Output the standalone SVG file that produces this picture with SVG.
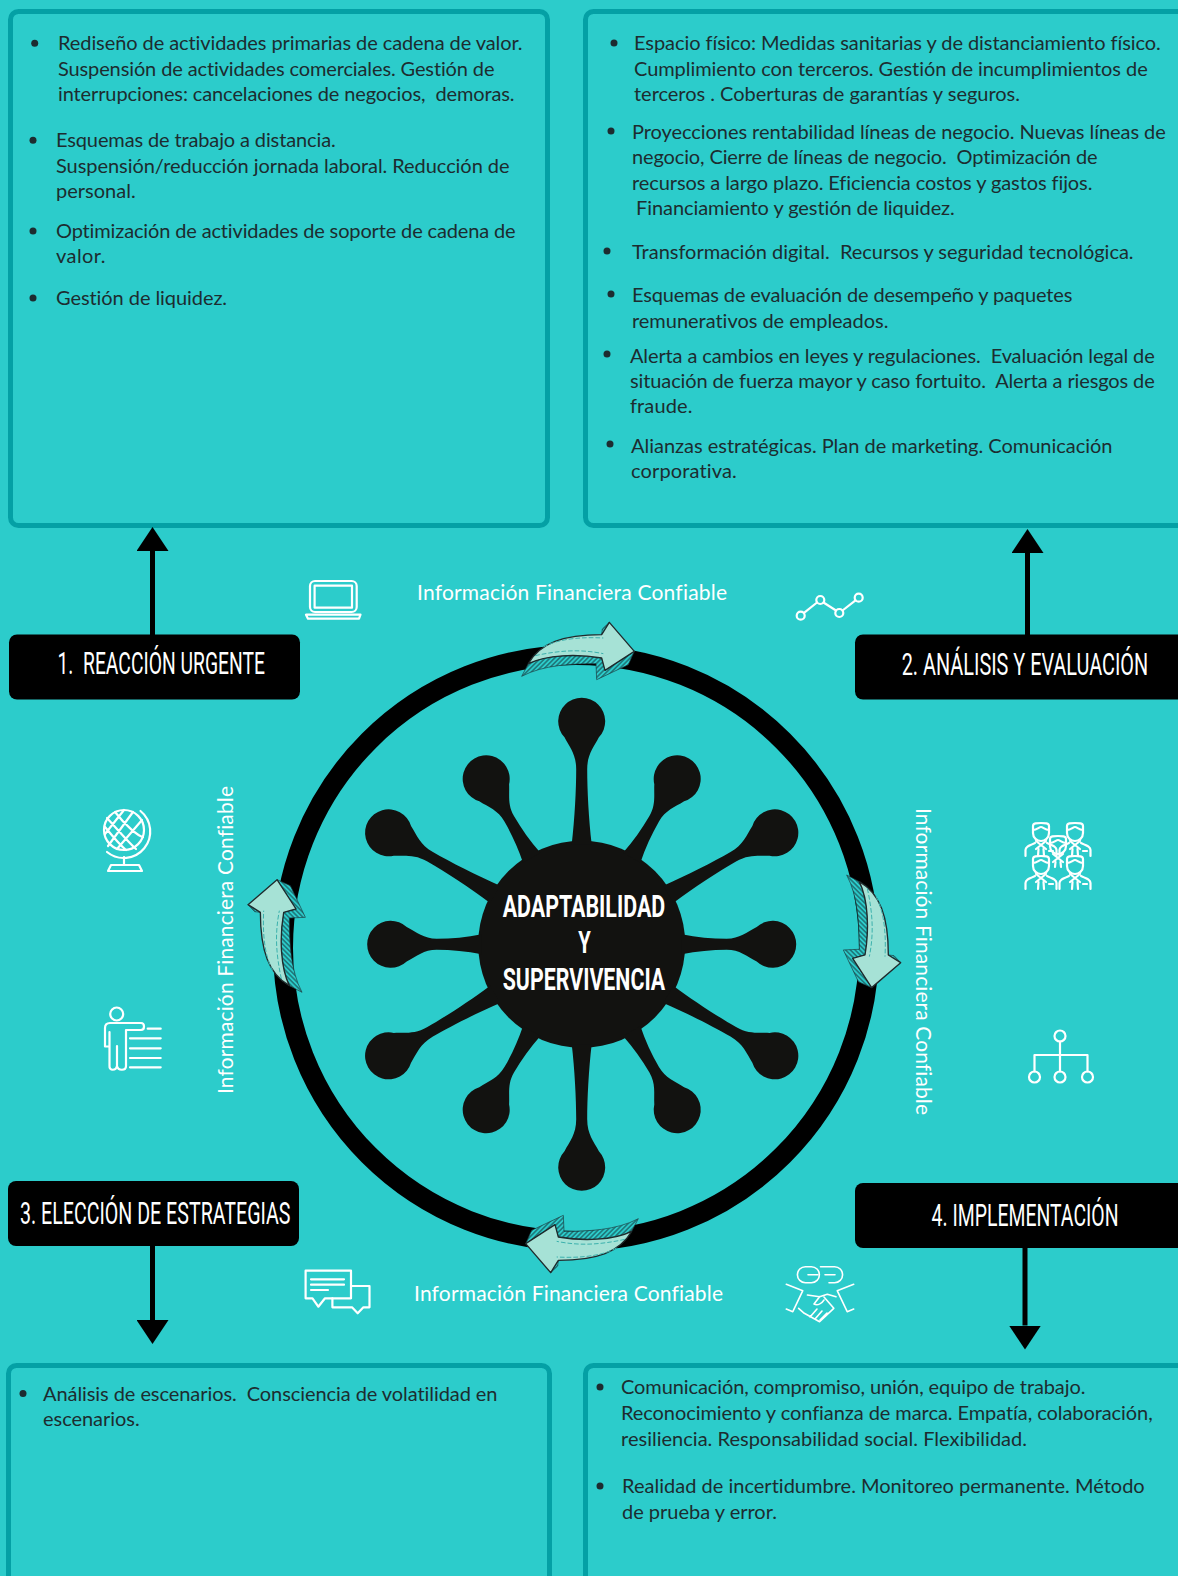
<svg xmlns="http://www.w3.org/2000/svg" width="1178" height="1576" viewBox="0 0 1178 1576">
<style>
.box{fill:#2ccccb;stroke:#04a0a5;stroke-width:5}
.t{font-family:"Lato","Noto Sans",sans-serif;font-size:20px;fill:#1d2c30;white-space:pre;font-variant-ligatures:none}
.b{fill:#1d2c30}
.info{font-family:"Lato","Noto Sans",sans-serif;font-size:21px;fill:#fff;font-variant-ligatures:none}
.head{font-family:"Liberation Sans Narrow","Roboto",sans-serif;font-size:32px;fill:#fff;white-space:pre}
.center{font-family:"Liberation Sans Narrow","Roboto",sans-serif;font-weight:700;font-size:32px;fill:#fff}
.label{fill:#000}
.ic{fill:none;stroke:#fff;stroke-width:2.200;stroke-linecap:round;stroke-linejoin:round}
.conn{stroke:#000;stroke-width:5;fill:none}
</style>
<defs>
<marker id="tri" markerUnits="userSpaceOnUse" markerWidth="24" markerHeight="32" refX="0" refY="16" viewBox="0 0 24 32" orient="auto"><path d="M0 0L24 16L0 32Z" fill="#000"/></marker>
<pattern id="hatch" width="10" height="10" patternUnits="userSpaceOnUse" patternTransform="rotate(-45)"><rect width="10" height="10" fill="#2ccccb"/><line x1="5" y1="0" x2="5" y2="10" stroke="#17454a" stroke-width="3"/></pattern>
<g id="curved" transform="scale(.3333) translate(-126,-394)">
<path d="M50 225C85 290 88 380 88 448L40 450L85 545L125 563L68 475L105 465C118 390 115 300 88 245Z" fill="url(#hatch)" stroke="#1c3a3e" stroke-width="2"/>
<path d="M175 465L192 467L212 488Z" fill="url(#hatch)" stroke="#1c3a3e" stroke-width="2"/>
<path d="M88 245C150 280 175 350 175 465L212 488L125 563L68 475L105 465C118 390 115 300 88 245Z" fill="#a6e2d6" stroke="#1f2a2c" stroke-width="4" stroke-linejoin="round"/>
<path d="M112 265C128 340 132 400 118 470M138 290C165 340 168 410 165 470" fill="none" stroke="#3bb1ad" stroke-width="3" stroke-dasharray="14 6"/>
</g>
<path id="armL" d="M-10-100C-7-125-5.500-155-5.500-175C-5.500-190-12-197-17.200-207A23.500 23.500 0 1 1 17.200-207C12-197 5.500-190 5.500-175C5.500-155 7-125 10-100Z"/>
<path id="armS" d="M-10-100C-7-115-5.500-130-5.500-145C-5.500-158-12-165-17.200-175A23.500 23.500 0 1 1 17.200-175C12-165 5.500-158 5.500-145C5.500-130 7-115 10-100Z"/>
<g id="manHead" class="ic"><path d="M-8 3C-8 0-4 0 0 0S8 0 8 3V10C8 15 4 18 0 18S-8 15-8 10Z"/><path d="M-8 7C-4 7-2 4 0 4S4 7 8 7M-5 18L5 26M5 18L-5 26"/></g>
<g id="man"><use href="#manHead"/><path class="ic" d="M-15.500 33V27C-15.500 24-13 23-6 20M15.500 33V27C15.500 24 13 23 6 20M-2.500 26L-3 33M2.500 26L3 33M8 28H12"/></g>
</defs>
<rect id="background" width="1178" height="1576" fill="#2ccccb"/>

<g id="box-1"><rect class="box" x="10.500" y="11.500" width="537" height="514" rx="8"/>
<circle class="b" cx="34.700" cy="43.300" r="3.500"/><circle class="b" cx="33" cy="140.300" r="3.500"/><circle class="b" cx="33" cy="231" r="3.500"/><circle class="b" cx="33" cy="298" r="3.500"/>
<text class="t" x="58" y="50" textLength="464.600">Rediseño de actividades primarias de cadena de valor.</text>
<text class="t" x="58" y="76" textLength="436.500">Suspensión de actividades comerciales. Gestión de</text>
<text class="t" x="58" y="101" textLength="456.600">interrupciones: cancelaciones de negocios,  demoras.</text>
<text class="t" x="56" y="147" textLength="279.700">Esquemas de trabajo a distancia.</text>
<text class="t" x="56" y="172.700" textLength="453.500">Suspensión/reducción jornada laboral. Reducción de</text>
<text class="t" x="56" y="198" textLength="79.700">personal.</text>
<text class="t" x="56" y="238" textLength="459.600">Optimización de actividades de soporte de cadena de</text>
<text class="t" x="56" y="263" textLength="49.500">valor.</text>
<text class="t" x="56" y="305" textLength="171.100">Gestión de liquidez.</text>
</g>
<g id="box-2"><rect class="box" x="585.500" y="11.500" width="610" height="514" rx="8"/>
<circle class="b" cx="614" cy="43" r="3.500"/><circle class="b" cx="611" cy="131" r="3.500"/><circle class="b" cx="607" cy="251" r="3.500"/><circle class="b" cx="611" cy="294" r="3.500"/><circle class="b" cx="607" cy="354" r="3.500"/><circle class="b" cx="610" cy="444" r="3.500"/>
<text class="t" x="634" y="50" textLength="526.800">Espacio físico: Medidas sanitarias y de distanciamiento físico.</text>
<text class="t" x="634" y="76" textLength="513.700">Cumplimiento con terceros. Gestión de incumplimientos de</text>
<text class="t" x="634" y="101" textLength="386">terceros . Coberturas de garantías y seguros.</text>
<text class="t" x="632" y="138.500" textLength="533.800">Proyecciones rentabilidad líneas de negocio. Nuevas líneas de</text>
<text class="t" x="632" y="164" textLength="465.500">negocio, Cierre de líneas de negocio.  Optimización de</text>
<text class="t" x="632" y="190" textLength="460.400">recursos a largo plazo. Eficiencia costos y gastos fijos.</text>
<text class="t" x="636" y="215" textLength="318.800">Financiamiento y gestión de liquidez.</text>
<text class="t" x="632" y="259" textLength="501.600">Transformación digital.  Recursos y seguridad tecnológica.</text>
<text class="t" x="632" y="302" textLength="440.300">Esquemas de evaluación de desempeño y paquetes</text>
<text class="t" x="632" y="327.500" textLength="256.400">remunerativos de empleados.</text>
<text class="t" x="630" y="362.500" textLength="524.700">Alerta a cambios en leyes y regulaciones.  Evaluación legal de</text>
<text class="t" x="630" y="388" textLength="524.700">situación de fuerza mayor y caso fortuito.  Alerta a riesgos de</text>
<text class="t" x="630" y="413" textLength="62.400">fraude.</text>
<text class="t" x="631" y="453" textLength="481.500">Alianzas estratégicas. Plan de marketing. Comunicación</text>
<text class="t" x="631" y="478" textLength="105.700">corporativa.</text>
</g>
<g id="box-3"><rect class="box" x="8.500" y="1365.500" width="541" height="300" rx="8"/>
<circle class="b" cx="23" cy="1393.500" r="3.500"/>
<text class="t" x="43" y="1400.700" textLength="454.500">Análisis de escenarios.  Consciencia de volatilidad en</text>
<text class="t" x="43" y="1426" textLength="96.700">escenarios.</text>
</g>
<g id="box-4"><rect class="box" x="585.500" y="1365.500" width="610" height="300" rx="8"/>
<circle class="b" cx="600" cy="1387" r="3.500"/><circle class="b" cx="600" cy="1486" r="3.500"/>
<text class="t" x="621" y="1393.700" textLength="464.400">Comunicación, compromiso, unión, equipo de trabajo.</text>
<text class="t" x="621" y="1419.800" textLength="531.700">Reconocimiento y confianza de marca. Empatía, colaboración,</text>
<text class="t" x="621" y="1446" textLength="406">resiliencia. Responsabilidad social. Flexibilidad.</text>
<text class="t" x="622" y="1493" textLength="522.700">Realidad de incertidumbre. Monitoreo permanente. Método</text>
<text class="t" x="622" y="1519" textLength="154.900">de prueba y error.</text>
</g>

<g id="connectors">
<path class="conn" d="M152.500 636V551" marker-end="url(#tri)"/>
<path class="conn" d="M1027.500 636V553" marker-end="url(#tri)"/>
<path class="conn" d="M152.500 1244V1320" marker-end="url(#tri)"/>
<path class="conn" d="M1025 1246V1325.500" marker-end="url(#tri)"/>
</g>

<g id="label-1"><rect class="label" x="9" y="634.500" width="291" height="65" rx="8"/><text class="head" x="57.500" y="674" textLength="207.500" lengthAdjust="spacingAndGlyphs">1.  REACCIÓN URGENTE</text></g>
<g id="label-2"><path class="label" d="M863 634.500H1178V699.500H863A8 8 0 0 1 855 691.500V642.500A8 8 0 0 1 863 634.500Z"/><text class="head" transform="translate(901.700 675) scale(.7 1)" textLength="352.100" lengthAdjust="spacingAndGlyphs">2. ANÁLISIS Y EVALUACIÓN</text></g>
<g id="label-3"><rect class="label" x="8" y="1181" width="291" height="65" rx="8"/><text class="head" x="20" y="1224" textLength="270.500" lengthAdjust="spacingAndGlyphs">3. ELECCIÓN DE ESTRATEGIAS</text></g>
<g id="label-4"><path class="label" d="M863 1183H1178V1248H863A8 8 0 0 1 855 1240V1191A8 8 0 0 1 863 1183Z"/><text class="head" transform="translate(931.600 1226) scale(.7 1)" textLength="267.100" lengthAdjust="spacingAndGlyphs">4. IMPLEMENTACIÓN</text></g>

<g id="ring"><circle cx="576" cy="948" r="293" fill="none" stroke="#000" stroke-width="20"/></g>
<g id="virus" fill="#121210" transform="translate(581.700 944.300)">
<circle r="103.500"/>
<use href="#armL"/><use href="#armS" transform="rotate(30)"/><use href="#armL" transform="rotate(60)"/><use href="#armS" transform="rotate(90)"/><use href="#armL" transform="rotate(120)"/><use href="#armS" transform="rotate(150)"/><use href="#armL" transform="rotate(180)"/><use href="#armS" transform="rotate(210)"/><use href="#armL" transform="rotate(240)"/><use href="#armS" transform="rotate(270)"/><use href="#armL" transform="rotate(300)"/><use href="#armS" transform="rotate(330)"/>
</g>
<g id="center-label">
<text class="center" x="502.700" y="916.700" textLength="162.500" lengthAdjust="spacingAndGlyphs">ADAPTABILIDAD</text>
<text class="center" x="578.300" y="953.300" textLength="12.500" lengthAdjust="spacingAndGlyphs">Y</text>
<text class="center" x="502.700" y="990" textLength="162.500" lengthAdjust="spacingAndGlyphs">SUPERVIVENCIA</text>
</g>

<g id="cycle-arrows">
<use href="#curved" transform="translate(578 651) rotate(-90)"/>
<use href="#curved" transform="translate(872 931.300)"/>
<use href="#curved" transform="translate(582 1244) rotate(90)"/>
<use href="#curved" transform="translate(276.700 936) rotate(180)"/>
</g>

<g id="info-labels">
<text class="info" x="417" y="600" textLength="310">Información Financiera Confiable</text>
<text class="info" x="414" y="1301" textLength="309">Información Financiera Confiable</text>
<text class="info" transform="translate(233 1094) rotate(-90)" textLength="308">Información Financiera Confiable</text>
<text class="info" transform="translate(915.700 808) rotate(90)" textLength="307">Información Financiera Confiable</text>
</g>

<g id="icon-laptop" class="ic"><rect x="310" y="581" width="46.700" height="31" rx="5"/><rect x="314.600" y="585.700" width="37.400" height="22"/><path d="M306 614.700H360.500L359 618.700H308Z"/></g>
<g id="icon-chart" class="ic"><path d="M804 612.800L817 602.500M823.500 602.500L836 610.500M842.500 610.500L855.500 600.300"/><circle cx="800.700" cy="615.700" r="4"/><circle cx="820.300" cy="600" r="4"/><circle cx="839.300" cy="613" r="4"/><circle cx="858.700" cy="597.700" r="4"/></g>
<g id="icon-people"><use href="#man" x="1041" y="823"/><use href="#man" x="1075" y="823"/><use href="#manHead" x="1058" y="836"/><path class="ic" d="M1055.500 862L1055 867M1060.500 862L1061 867"/><use href="#man" x="1041" y="856"/><use href="#man" x="1075" y="856"/></g>
<g id="icon-org" class="ic"><circle cx="1060" cy="1036" r="5.500"/><path d="M1060 1041.500V1071.500M1034.500 1071.500V1055H1087.500V1071.500"/><circle cx="1034.500" cy="1077" r="5.500"/><circle cx="1060" cy="1077" r="5.500"/><circle cx="1087.500" cy="1077" r="5.500"/></g>
<g id="icon-globe" class="ic"><circle cx="124" cy="830" r="20"/><path d="M140.500 811A25 25 0 0 1 107 852M124 857V865M108 871L111 865H139L142 871ZM107 818C118 830 128 842 136 849M115 812C126 826 138 836 143 837M105 827C114 838 120 845 126 850M133 812L108 846M142 820L117 849M124 810L105 834"/></g>
<g id="icon-presenter" class="ic"><circle cx="116.700" cy="1014" r="6.500"/><path d="M109.500 1046.500H105V1028C105 1024.500 107 1023 110 1023H141C145 1023 145 1030 141 1030H126V1066C126 1071 118 1071 117 1066V1046M117 1066C116 1071 109 1071 109.500 1066V1032"/><path d="M147.700 1028.700H160.700M130 1038.300H160.700M130 1048.300H160.700M130 1058H160.700M130 1067.300H160.700"/></g>
<g id="icon-chat" class="ic"><path d="M305.600 1270.700H351V1298.300H325L318.300 1306.700L312.500 1298.300H305.600ZM311 1279.300H344M311 1284.700H344M311 1290H328"/><path d="M351 1286H369.500V1307.300H363.400L357.700 1313.300L352 1307.300H332.400V1298.300"/></g>
<g id="icon-handshake" class="ic" style="stroke-width:1.600"><rect x="797.400" y="1266.700" width="22" height="16" rx="8"/><path d="M820.500 1266.700H834.600A8 8 0 0 1 834.600 1282.700H829"/><path d="M808 1274.700H818M825 1274.700H835"/><path d="M786.300 1284.300L802.800 1290.700L792.800 1311.700L786.300 1309M853.700 1284.300L837.200 1290.700L847.200 1311.700L853.700 1309"/><path d="M807.400 1295L819.600 1296.700L827.300 1294.300L836 1296.700M798.600 1308.300L804.300 1313.300L819.600 1321.700L833.800 1308.300L824 1297M819.600 1296.700L814 1304C818 1306 822 1303 824 1300M810 1317L817 1309M815 1319L822 1311M820 1320L827 1313"/></g>
</svg>
